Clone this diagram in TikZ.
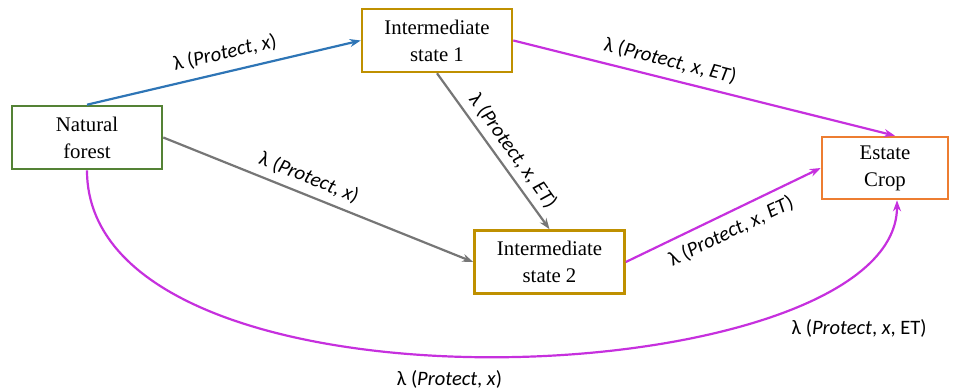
\documentclass[tikz,border=0pt]{standalone}
\usepackage{fontspec}
\setmainfont{Liberation Serif}
\newfontfamily\statefont{Liberation Serif}
\newfontfamily\lblfont{Carlito}
\usetikzlibrary{arrows.meta, positioning}
\definecolor{forestgreen}{RGB}{84,130,53}
\definecolor{stategold}{RGB}{191,144,0}
\definecolor{croporange}{RGB}{237,125,49}
\definecolor{edgeblue}{RGB}{46,117,182}
\definecolor{edgegray}{RGB}{118,118,118}
\definecolor{edgemagenta}{RGB}{198,48,222}
\newcommand{\rate}[1]{λ (\textit{Protect}, \textit{x}#1)}

\begin{document}
\begin{tikzpicture}[
  x=1pt, y=-1pt,
  >={Stealth[length=11pt,width=8pt]},
  state/.style={draw, line width=2.6pt, fill=white, minimum width=150pt, minimum height=63pt,
    align=center, font=\statefont\fontsize{20.8}{27}\selectfont},
  trans/.style={->, line width=2.2pt},
  rlabel/.style={text=black, font=\lblfont\fontsize{20.5}{24}\selectfont, inner sep=2pt}
]
\useasboundingbox (0,0) rectangle (960,391);

% states
\node[state, draw=forestgreen] (forest) at (87,137.5) {Natural\\forest};
\node[state, draw=stategold] (inter1) at (437,40.5) {Intermediate\\state 1};
\node[state, draw=stategold] (inter2) at (549.5,262) {Intermediate\\state 2};
\node[state, draw=croporange, minimum width=126pt, minimum height=62pt] (crop) at (885,168) {Estate\\Crop};

% transitions
\draw[trans, edgeblue] (forest.north) -- node[rlabel, sloped, above=7pt, pos=0.52] {\rate{}} (inter1.west);
\draw[trans, edgegray] (forest.east) -- node[rlabel, sloped, above=5pt, pos=0.45] {\rate{}} (inter2.west);
\draw[trans, edgegray] (inter1.south) -- node[rlabel, sloped, above=4pt, pos=0.56] {\rate{, \textit{ET}}} (inter2.north);
\draw[trans, edgemagenta] (inter1.east) -- node[rlabel, sloped, above=6pt, pos=0.4] {\rate{, \textit{ET}}} ([xshift=10pt]crop.north);
\draw[trans, edgemagenta] (inter2.east) -- node[rlabel, sloped, below=6pt] {\rate{, \textit{ET}}} (crop.west);
\draw[trans, edgemagenta] (forest.south) .. controls (87,432) and (897,395) .. ([xshift=12pt]crop.south)
  node[rlabel, pos=0.465, below=12pt] {\rate{}}
  node[rlabel, pos=0.78, anchor=north west, yshift=-12pt, xshift=-8pt] {\rate{, ET}};
\end{tikzpicture}
\end{document}
